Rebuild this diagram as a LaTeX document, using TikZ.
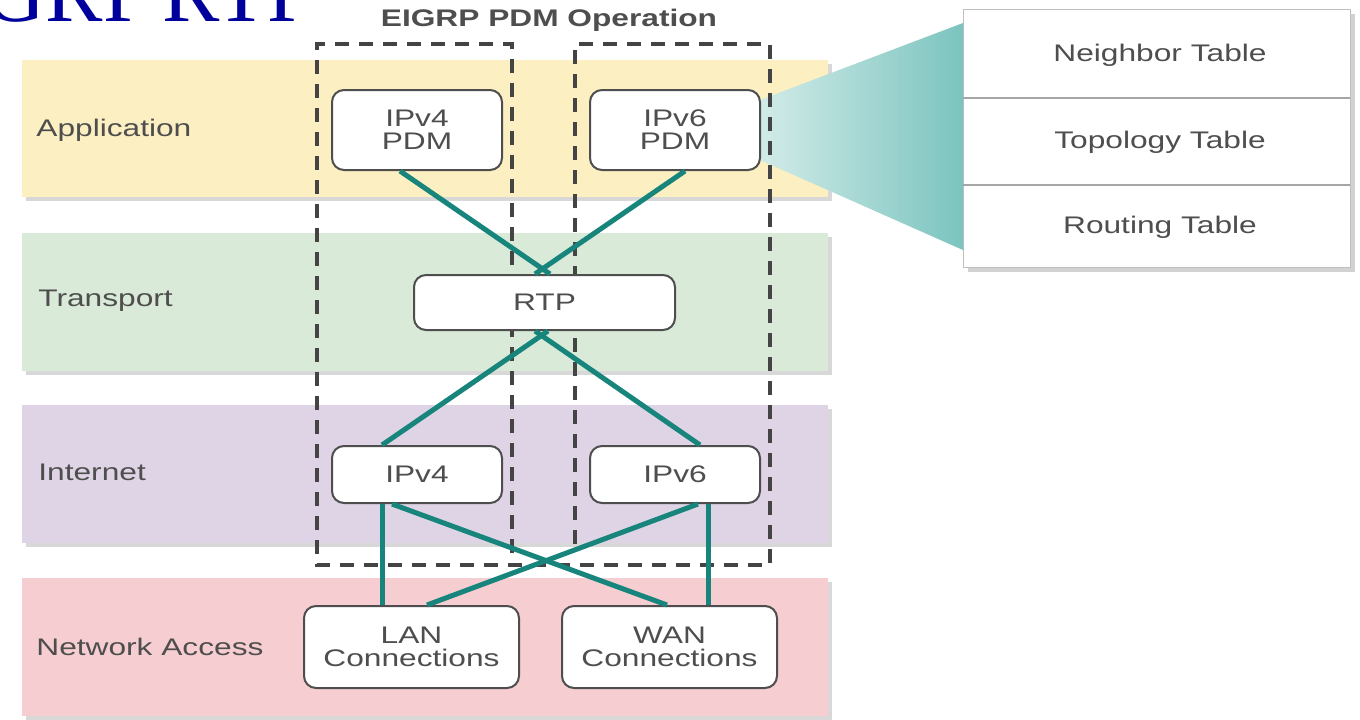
\documentclass[tikz,border=0pt]{standalone}
\usepackage{graphicx}
\usepackage{fontspec}
\setmainfont{Liberation Sans}
\newfontfamily\slidefont{Liberation Serif}
\usetikzlibrary{shadows,calc}

\definecolor{appyellow}{HTML}{FCEFC1}
\definecolor{trgreen}{HTML}{DAEAD8}
\definecolor{inetlilac}{HTML}{DFD4E5}
\definecolor{accpink}{HTML}{F6CDD0}
\definecolor{linkteal}{HTML}{17857C}
\definecolor{txtgray}{HTML}{4E4E4E}
\definecolor{dashgray}{HTML}{444444}
\definecolor{titleblue}{HTML}{00009C}
\definecolor{calloutpale}{HTML}{D2EBE8}
\definecolor{calloutdeep}{HTML}{7BC4BF}

% widened sans text, as in the slide
\newcommand{\wtxt}[1]{\scalebox{1.32}[1]{#1}}

\tikzset{
  layer/.style={drop shadow={shadow xshift=2pt, shadow yshift=-2pt, opacity=0.3}},
  layertext/.style={anchor=west, inner sep=0pt, text=txtgray, font=\fontsize{12}{12}\selectfont},
  box/.style={draw=txtgray, line width=1pt, rounded corners=6pt, fill=white,
    align=center, text=txtgray, inner sep=0pt, font=\fontsize{12}{11.5}\selectfont},
  link/.style={linkteal, line width=2.5pt},
  pdmframe/.style={dashgray, line width=2pt, dash pattern=on 7pt off 5pt},
}

\begin{document}
\begin{tikzpicture}[x=0.5pt, y=-0.5pt]
    \fill[white] (0,0) rectangle (1360,719);
    \useasboundingbox (0,0) rectangle (1360,719);

    % slide title, cut by the page edge
    \node[anchor=base east, inner sep=0pt, text=titleblue,
      font=\slidefont\fontsize{43}{43}\selectfont] (slidetitle) at (316,21) {GRP\hspace{6pt}RTP};

    % the four layers
    \path[fill=appyellow, layer] (22,60) rectangle (828,197);
    \path[fill=trgreen, layer] (22,233) rectangle (828,371);
    \path[fill=inetlilac, layer] (22,405) rectangle (828,543);
    \path[fill=accpink, layer] (22,578) rectangle (828,716);

    \node[layertext] (lapp) at (36,130) {\wtxt{Application}};
    \node[layertext] (ltrans) at (38,301) {\wtxt{Transport}};
    \node[layertext] (linet) at (38,472) {\wtxt{Internet}};
    \node[layertext] (lacc) at (36,647) {\wtxt{Network Access}};

    % tables
    \node[draw=black!25, fill=white, minimum width=193.5pt, minimum height=129pt,
      drop shadow={shadow xshift=2pt, shadow yshift=-2pt, opacity=0.35}] (tables) at (1157,138.5) {};
    \draw[black!35, line width=0.8pt] (963,98) -- (1350,98);
    \draw[black!35, line width=0.8pt] (963,185) -- (1350,185);
    \node[text=txtgray, font=\fontsize{12}{12}\selectfont] (neigh) at (1160,55) {\wtxt{Neighbor Table}};
    \node[text=txtgray, font=\fontsize{12}{12}\selectfont] (topo) at (1160,142) {\wtxt{Topology Table}};
    \node[text=txtgray, font=\fontsize{12}{12}\selectfont] (rout) at (1160,227) {\wtxt{Routing Table}};

    % callout
    \shade[left color=calloutpale, right color=calloutdeep]
      (760,100) -- (963,23) -- (963,250) -- (760,160) -- cycle;

    % PDM frames
    \node[text=txtgray, font=\bfseries\fontsize{12}{12}\selectfont] (pdmtitle) at (549,20) {\wtxt{EIGRP PDM Operation}};
    \draw[pdmframe] (512,553) -- (512,44) -- (317,44) -- (317,565) -- (770,565) -- (770,44) -- (575,44) -- (575,553);

    % modules
    \node[box, minimum width=85pt, minimum height=40pt] (pdmfour) at (417,130) {\wtxt{IPv4}\\\wtxt{PDM}};
    \node[box, minimum width=85pt, minimum height=40pt] (pdmsix) at (675,130) {\wtxt{IPv6}\\\wtxt{PDM}};
    \node[box, minimum width=130.5pt, minimum height=27.5pt] (rtp) at (544.5,302.5) {\wtxt{RTP}};
    \node[box, minimum width=85pt, minimum height=28.5pt] (ipfour) at (417,474.5) {\wtxt{IPv4}};
    \node[box, minimum width=85pt, minimum height=28.5pt] (ipsix) at (675,474.5) {\wtxt{IPv6}};
    \node[box, minimum width=107.5pt, minimum height=41pt] (lan) at (411.5,647) {\wtxt{LAN}\\\wtxt{Connections}};
    \node[box, minimum width=107.5pt, minimum height=41pt] (wan) at (669.5,647) {\wtxt{WAN}\\\wtxt{Connections}};

    % links
    \draw[link] ($(pdmfour.south)+(-17,0)$) -- ($(rtp.north)+(5.5,0)$);
    \draw[link] ($(pdmsix.south)+(10,0)$) -- ($(rtp.north)+(-9.5,0)$);
    \draw[link] ($(rtp.south)+(3.5,0)$) -- ($(ipfour.north)+(-35,0)$);
    \draw[link] ($(rtp.south)+(-9.5,0)$) -- ($(ipsix.north)+(25,0)$);
    \draw[link] ($(ipfour.south)+(-35,0)$) -- ($(lan.north)+(-29.5,0)$);
    \draw[link] ($(ipfour.south)+(-25,0)$) -- ($(wan.north)+(-2.5,0)$);
    \draw[link] ($(ipsix.south)+(23,0)$) -- ($(lan.north)+(15.5,0)$);
    \draw[link] ($(ipsix.south)+(33,0)$) -- ($(wan.north)+(38.5,0)$);
\end{tikzpicture}
\end{document}
